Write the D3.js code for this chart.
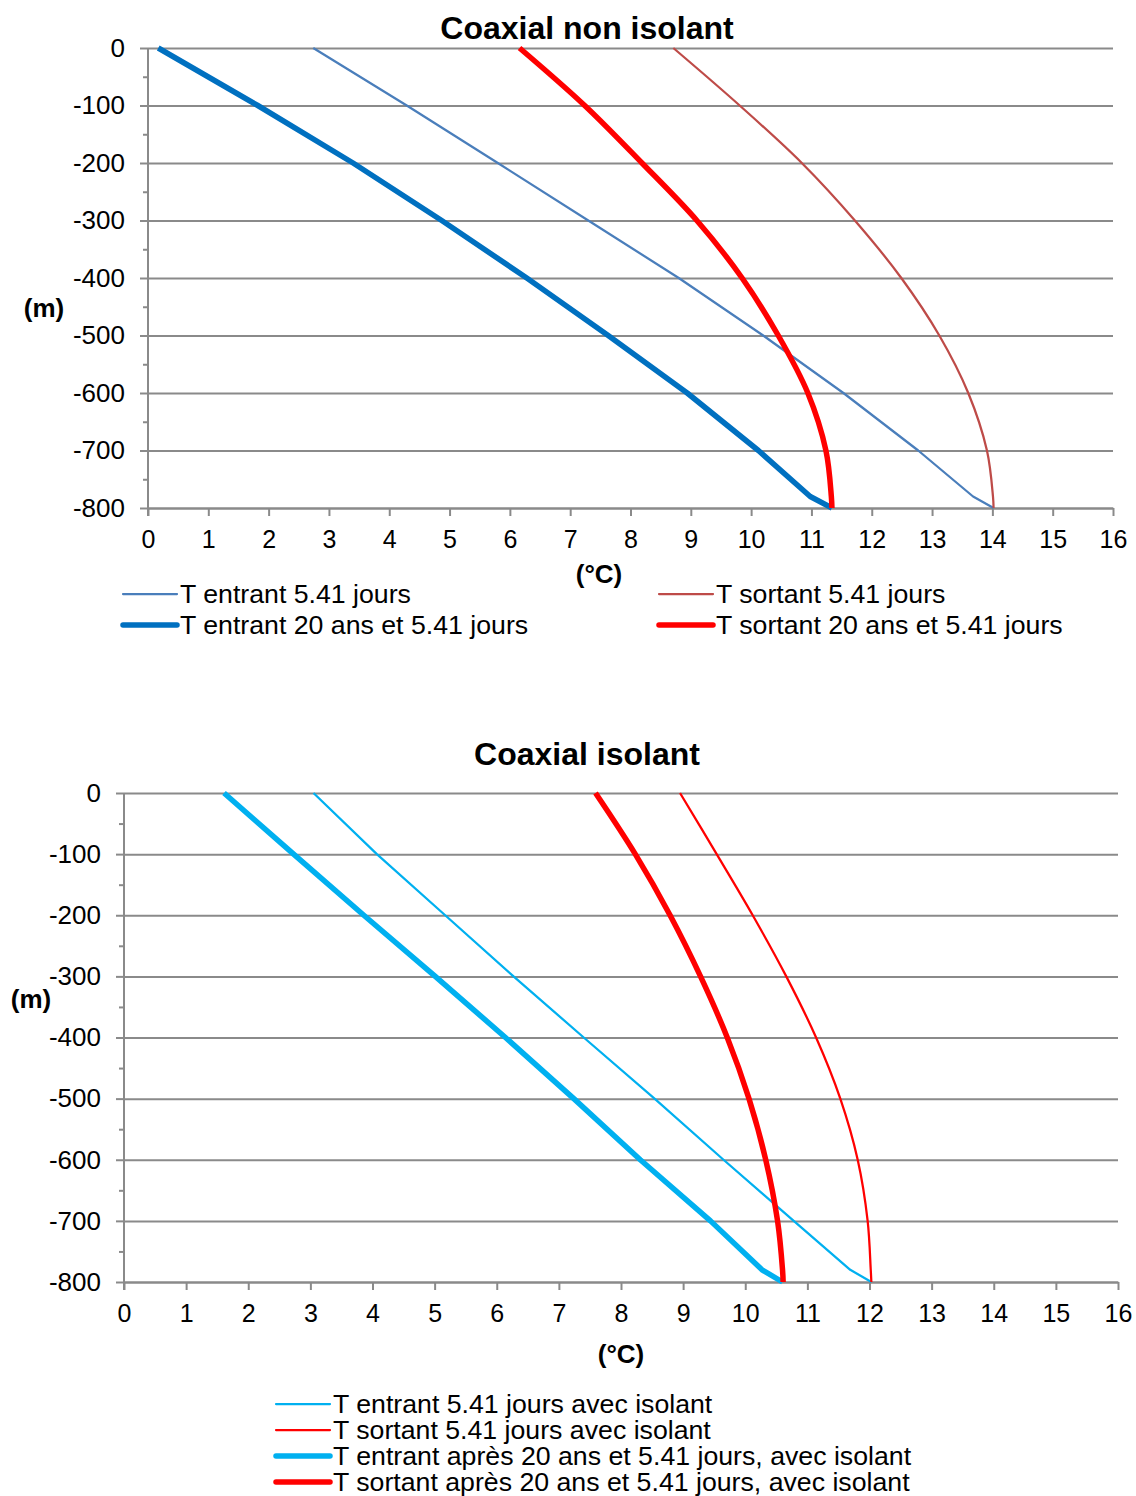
<!DOCTYPE html>
<html>
<head>
<meta charset="utf-8">
<script src="https://cdn.jsdelivr.net/npm/d3@7"></script>
<style>
  body { margin: 0; background: #fff; }
  svg { display: block; font-family: "Liberation Sans", Arial, Helvetica, sans-serif; }
</style>
</head>
<body>
<svg id="fig" width="1136" height="1496"></svg>
<script>
// Depth levels (m) shared by every profile
const depthLevels = [0, -100, -200, -300, -400, -500, -600, -700, -780, -800];
const depthTicks = [0, -100, -200, -300, -400, -500, -600, -700, -800];
const depthMinorTicks = [-50, -150, -250, -350, -450, -550, -650, -750];
const tempTicks = [0, 1, 2, 3, 4, 5, 6, 7, 8, 9, 10, 11, 12, 13, 14, 15, 16];

// Coaxial non isolant — temperatures (°C)
const tEntrant541 = [2.74, 4.29, 5.80, 7.30, 8.80, 10.20, 11.53, 12.77, 13.68, 14.02];
const tEntrant20ans = [0.17, 1.82, 3.40, 4.87, 6.28, 7.63, 8.94, 10.12, 10.98, 11.34];
const tSortant541 = [8.71, 9.81, 10.84, 11.72, 12.49, 13.12, 13.60, 13.91, 14.01, 14.02];
const tSortant20ans = [6.16, 7.24, 8.19, 9.10, 9.85, 10.45, 10.94, 11.24, 11.33, 11.34];

// Coaxial isolant — temperatures (°C)
const tEntrantIso = [3.05, 4.07, 5.17, 6.27, 7.40, 8.54, 9.65, 10.78, 11.69, 12.03];
const tSortantIso = [8.95, 9.54, 10.12, 10.66, 11.14, 11.53, 11.81, 11.97, 12.02, 12.03];
const tEntrantIso20 = [1.61, 2.73, 3.86, 5.01, 6.14, 7.24, 8.31, 9.44, 10.27, 10.60];
const tSortantIso20 = [7.59, 8.23, 8.79, 9.28, 9.71, 10.06, 10.33, 10.52, 10.60, 10.61];

const svg = d3.select("#fig");
const GRID = "#8a8a8a";
const FONT = "\"Liberation Sans\", Arial, sans-serif";

function drawPanel(cfg) {
  const x = d3.scaleLinear().domain([0, 16]).range([cfg.left, cfg.right]);
  const y = d3.scaleLinear().domain([0, -800]).range([cfg.top, cfg.bottom]);
  const g = svg.append("g");

  // horizontal gridlines
  g.append("g")
    .attr("transform", `translate(${cfg.left},0)`)
    .call(d3.axisLeft(y).tickValues(depthTicks).tickSize(-(cfg.right - cfg.left)).tickFormat(""))
    .call(s => s.select(".domain").remove())
    .call(s => s.selectAll("line").attr("stroke", GRID).attr("stroke-width", 2));

  // minor depth ticks
  g.append("g")
    .attr("transform", `translate(${cfg.left},0)`)
    .call(d3.axisLeft(y).tickValues(depthMinorTicks).tickSize(5).tickFormat(""))
    .call(s => s.select(".domain").remove())
    .call(s => s.selectAll("line").attr("stroke", GRID).attr("stroke-width", 2));

  // depth axis (plain hyphen for negative values)
  g.append("g")
    .attr("transform", `translate(${cfg.left},0)`)
    .call(d3.axisLeft(y).tickValues(depthTicks).tickSize(8).tickPadding(15)
      .tickSizeOuter(0).tickFormat(d => String(d)))
    .call(s => s.select(".domain").attr("stroke", GRID).attr("stroke-width", 2)
      .attr("d", `M0,${cfg.top}V${cfg.bottom + 8}`))
    .call(s => s.selectAll("line").attr("stroke", GRID).attr("stroke-width", 2))
    .call(s => s.selectAll("text").attr("font-size", 26).attr("fill", "#000")
      .attr("font-family", FONT));

  // temperature axis
  g.append("g")
    .attr("transform", `translate(0,${cfg.bottom})`)
    .call(d3.axisBottom(x).tickValues(tempTicks).tickSize(8).tickPadding(14)
      .tickSizeOuter(0).tickFormat(d => String(d)))
    .call(s => s.select(".domain").attr("stroke", GRID).attr("stroke-width", 2))
    .call(s => s.selectAll("line").attr("stroke", GRID).attr("stroke-width", 2))
    .call(s => s.selectAll("text").attr("font-size", 25).attr("fill", "#000")
      .attr("font-family", FONT));

  // profiles: inflow legs are near-straight with a bend at the bottom,
  // outflow legs are smooth curves
  const straight = d3.line().x(d => x(d.t)).y(d => y(d.z)).curve(d3.curveLinear);
  const smooth = d3.line().x(d => x(d.t)).y(d => y(d.z)).curve(d3.curveCatmullRom.alpha(0.5));

  cfg.series.forEach(s => {
    const pts = depthLevels.map((z, i) => ({ z, t: s.values[i] }));
    g.append("path")
      .datum(pts)
      .attr("fill", "none")
      .attr("stroke", s.color)
      .attr("stroke-width", s.width)
      .attr("stroke-linejoin", "round")
      .attr("d", s.smooth ? smooth : straight);
  });

  // titles
  g.append("text")
    .attr("x", cfg.titleX).attr("y", cfg.titleY)
    .attr("text-anchor", "middle")
    .attr("font-size", 32).attr("font-weight", "bold")
    .text(cfg.title);
  g.append("text")
    .attr("x", cfg.mLabel[0]).attr("y", cfg.mLabel[1])
    .attr("text-anchor", "middle")
    .attr("font-size", 26).attr("font-weight", "bold")
    .text("(m)");
  g.append("text")
    .attr("x", cfg.cLabel[0]).attr("y", cfg.cLabel[1])
    .attr("text-anchor", "middle")
    .attr("font-size", 26).attr("font-weight", "bold")
    .text("(°C)");

  // legend
  cfg.series.forEach(s => {
    const [lx, ly] = s.legendPos;
    g.append("line")
      .attr("x1", lx).attr("x2", lx + 54)
      .attr("y1", ly).attr("y2", ly)
      .attr("stroke", s.color)
      .attr("stroke-width", s.width)
      .attr("stroke-linecap", "round");
    g.append("text")
      .attr("x", lx + 57).attr("y", ly + 9)
      .attr("font-size", 26.7)
      .text(s.name);
  });
}

drawPanel({
  title: "Coaxial non isolant",
  titleX: 587, titleY: 39,
  left: 148, right: 1113, top: 48, bottom: 508,
  mLabel: [44, 317],
  cLabel: [599, 583],
  series: [
    { name: "T entrant 5.41 jours", values: tEntrant541, color: "#4a7ebb", width: 2.25, legendPos: [123, 594] },
    { name: "T entrant 20 ans et 5.41 jours", values: tEntrant20ans, color: "#0070c0", width: 5.5, legendPos: [123, 625] },
    { name: "T sortant 5.41 jours", values: tSortant541, color: "#be4b48", width: 2.25, legendPos: [659, 594], smooth: true },
    { name: "T sortant 20 ans et 5.41 jours", values: tSortant20ans, color: "#ff0000", width: 5.5, legendPos: [659, 625], smooth: true }
  ]
});

drawPanel({
  title: "Coaxial isolant",
  titleX: 587, titleY: 765,
  left: 124, right: 1118, top: 793, bottom: 1282,
  mLabel: [31, 1008],
  cLabel: [621, 1363],
  series: [
    { name: "T entrant 5.41 jours avec isolant", values: tEntrantIso, color: "#00b0f0", width: 2.25, legendPos: [276, 1404] },
    { name: "T sortant 5.41 jours avec isolant", values: tSortantIso, color: "#ff0000", width: 2.25, legendPos: [276, 1430], smooth: true },
    { name: "T entrant après 20 ans et 5.41 jours, avec isolant", values: tEntrantIso20, color: "#00b0f0", width: 5.5, legendPos: [276, 1456] },
    { name: "T sortant après 20 ans et 5.41 jours, avec isolant", values: tSortantIso20, color: "#ff0000", width: 5.5, legendPos: [276, 1482], smooth: true }
  ]
});
</script>
</body>
</html>
